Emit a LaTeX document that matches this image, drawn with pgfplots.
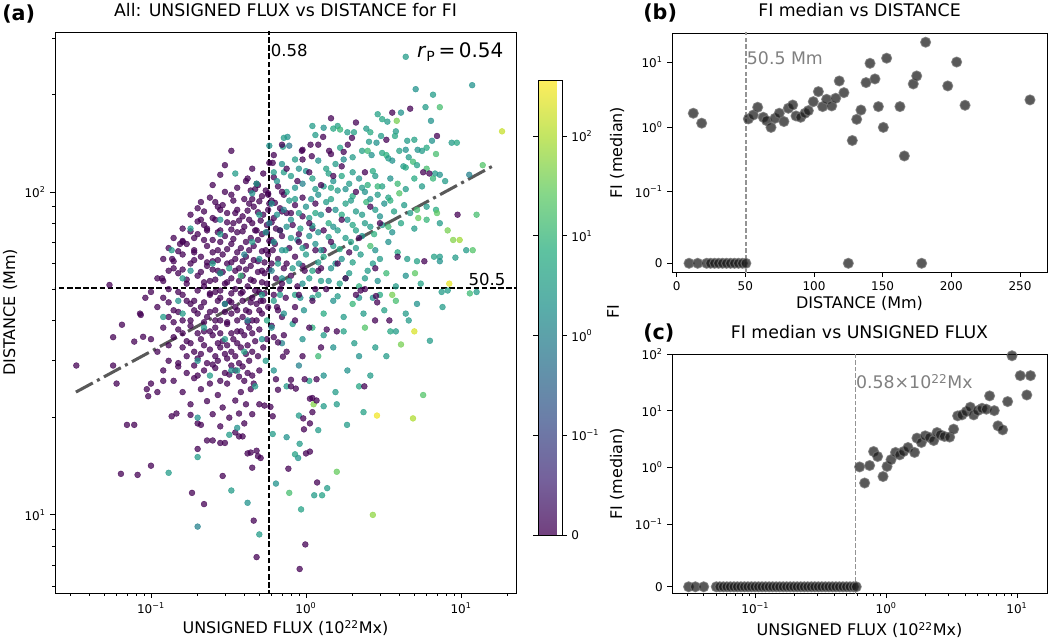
\documentclass[border=0pt]{standalone}
\usepackage{fontspec}
\setmainfont{DejaVu Sans}
\usepackage{pgfplots}
\usepackage{pgfplotstable}
\pgfplotsset{compat=1.18}
\newcommand{\tp}[1]{10\textsuperscript{#1}}
\pgfplotsset{
  colormap={vir}{rgb255(0cm)=(68,1,84) rgb255(1cm)=(71,45,123) rgb255(2cm)=(59,82,139) rgb255(3cm)=(44,114,142) rgb255(4cm)=(33,145,140) rgb255(5cm)=(40,174,128) rgb255(6cm)=(94,201,98) rgb255(7cm)=(173,220,48) rgb255(8cm)=(253,231,37)},
  colormap={virw}{rgb255(0cm)=(115,65,127) rgb255(1cm)=(117,98,156) rgb255(2cm)=(108,125,168) rgb255(3cm)=(97,149,170) rgb255(4cm)=(89,173,169) rgb255(5cm)=(94,194,160) rgb255(6cm)=(134,215,137) rgb255(7cm)=(194,229,100) rgb255(8cm)=(254,237,92)},
  every axis/.append style={
    tick label style={font=\fontsize{9}{10.5}\selectfont},
    label style={font=\fontsize{12}{14}\selectfont},
    title style={font=\fontsize{13}{15}\selectfont},
    /pgf/number format/assume math mode=true,
  },
  mpl/.style={scale only axis, anchor=south west, tick align=outside, tick pos=left,
    major tick length=3.5pt, minor tick length=2pt,
    every major tick/.append style={line width=0.6pt, black},
    every minor tick/.append style={line width=0.45pt, black},
    axis line style={line width=0.7pt}},
  fimark/.style={only marks, mark=*, mark size=3.75pt,
    mark options={fill=black!90, fill opacity=0.72, draw=black!55, draw opacity=0.75, line width=0.8pt}},
  scat/.style={scatter, only marks, mark=*, mark size=2.2pt, colormap name=vir,
    scatter/use mapped color={draw=mapped color, fill=mapped color},
    mark options={fill opacity=0.74, draw opacity=0.74, line width=0.35pt},
    point meta={\thisrow{f}<0.1 ? 10*\thisrow{f} : 2+0.4342945*ln(max(\thisrow{f},0.1))}},
}

\pgfplotstableread{
x y f
0.30 121 0
0.45 118 0
0.58 123 0
0.28 113 0
0.42 110 0
0.53 114 0
0.62 111 0
0.25 105 0
0.36 103 0
0.48 106 0
0.55 101 0
0.66 104 0
0.24 96 0
0.33 98 0
0.40 95 0
0.52 97 0
0.60 94 0
0.72 98 0
0.20 89 0
0.29 91 0
0.36 88 0
0.46 90 0
0.58 92 0
0.68 89 0
0.85 91 0
0.18 85 0
0.25 83 0
0.31 86 0
0.39 84 0
0.43 82 0
0.53 85 0
0.62 83 0
0.75 86 0
0.95 84 0
0.16 77 0
0.22 79 0
0.28 76 0
0.34 80 0
0.40 78 0
0.48 76 0
0.56 79 0
0.64 77 0
0.82 79 0
1.1 77 0
0.14 72 0
0.20 74 0
0.25 71 0
0.30 73 0
0.36 75 0
0.44 72 0
0.52 74 0
0.60 71 0
0.70 73 0
0.9 74 0
0.13 67 0
0.17 69 0
0.23 68 0
0.27 66 0
0.33 69 0
0.38 67 0
0.46 68 0
0.55 66 0
0.63 69 0
0.78 67 0
1.0 68 0
1.3 66 0
0.12 62 0
0.16 64 0
0.21 63 0
0.25 61 0
0.29 64 0
0.35 62 0
0.41 63 0
0.49 61 0
0.57 64 0
0.66 62 0
0.85 63 0
0.14 58 0
0.18 60 0
0.23 59 0
0.27 57 0
0.31 60 0
0.37 58 0
0.44 59 0
0.52 57 0
0.60 60 0
0.72 58 0
0.95 59 0
1.2 57 0
0.11 54 0
0.15 56 0
0.20 55 0
0.24 53 0
0.28 56 0
0.33 54 0
0.39 55 0
0.46 53 0
0.54 56 0
0.64 54 0
0.80 55 0
0.13 50 0
0.17 52 0
0.22 51 0
0.26 49 0
0.30 52 0
0.35 50 0
0.42 51 0
0.50 49 0
0.56 52 0
0.68 50 0
0.88 51 0
1.15 50 0
0.12 47 0
0.16 48 0
0.19 46 0
0.24 48 0
0.28 47 0
0.32 46 0
0.38 48.5 0
0.45 47 0
0.53 46 0
0.62 48 0
0.74 47 0
0.11 44 0
0.14 43 0
0.18 45 0
0.21 44 0
0.26 43 0
0.30 45 0
0.35 44 0
0.41 43 0
0.48 45 0
0.57 44 0
0.66 43 0
0.85 44 0
0.13 41 0
0.16 40 0
0.20 42 0
0.23 41 0
0.28 40 0
0.33 42 0
0.39 41 0
0.45 40 0
0.52 42 0
0.70 41 0
0.12 38 0
0.15 37.5 0
0.18 38.5 0
0.22 37 0
0.26 38 0
0.31 39 0
0.36 37 0
0.43 38 0
0.50 37.5 0
0.60 38.5 0
0.10 35 0
0.14 35.5 0
0.17 34.5 0
0.21 35 0
0.25 36 0
0.29 34.5 0
0.34 35 0
0.40 36 0
0.47 34.5 0
0.56 35 0
0.11 32 0
0.16 33 0
0.19 32 0
0.24 32.5 0
0.28 33 0
0.33 32 0
0.38 33 0
0.45 32 0
0.53 33 0
0.13 30 0
0.15 29.5 0
0.20 30.5 0
0.23 29.5 0
0.27 30 0
0.31 30.5 0
0.37 29.5 0
0.43 30 0
0.12 28 0
0.17 27.5 0
0.22 28 0
0.26 28.5 0
0.30 27.5 0
0.35 28 0
0.42 27.5 0
0.50 28 0
0.14 26 0
0.19 26.5 0
0.24 25.5 0
0.28 26 0
0.40 26 0
0.46 25.5 0
0.16 24 0
0.21 24.5 0
0.27 23.5 0
0.38 24 0
0.44 24.5 0
0.18 22 0
0.23 22.5 0
0.29 21.5 0
0.41 22 0
0.25 20.5 0
0.32 20 0
0.45 20.5 0
0.21 19 0
0.28 18.8 0
0.40 19.2 0
0.30 100 0
0.44 101 0
0.57 99 0
0.26 93 0
0.34 94 0
0.43 92 0
0.50 93.5 0
0.63 92.5 0
0.22 87 0
0.28 88 0
0.35 86 0
0.42 87.5 0
0.49 86.5 0
0.57 88 0
0.70 87 0
0.20 81 0
0.26 82 0
0.31 80.5 0
0.37 81.5 0
0.45 80 0
0.51 81.5 0
0.60 80.5 0
0.18 75.5 0
0.23 76 0
0.27 75 0
0.33 76.5 0
0.39 75.5 0
0.47 76 0
0.56 75 0
0.16 70.5 0
0.22 71 0
0.28 70 0
0.34 71.5 0
0.41 70 0
0.49 71 0
0.58 70.5 0
0.15 65.5 0
0.19 66 0
0.25 65 0
0.31 66.5 0
0.36 65 0
0.43 66 0
0.52 65.5 0
0.61 66 0
0.14 61 0
0.19 61.5 0
0.23 60.5 0
0.27 61.5 0
0.33 60.5 0
0.39 61 0
0.46 61.5 0
0.54 60.5 0
0.13 57 0
0.16 57.5 0
0.21 56.5 0
0.25 57.5 0
0.29 56.5 0
0.35 57 0
0.41 57.5 0
0.49 56.5 0
0.58 57.5 0
0.12 53 0
0.17 53.5 0
0.22 52.5 0
0.26 53.5 0
0.31 52.5 0
0.37 53 0
0.44 53.5 0
0.52 52.5 0
0.15 49 0
0.20 49.5 0
0.24 48.5 0
0.28 49.5 0
0.33 48.5 0
0.39 49 0
0.47 49.5 0
0.54 48.5 0
0.13 45.5 0
0.17 46 0
0.22 45.5 0
0.27 46 0
0.33 45.5 0
0.39 46 0
0.44 45.5 0
0.51 46 0
0.15 42.5 0
0.19 43 0
0.24 42.5 0
0.30 42.5 0
0.36 43 0
0.43 42.5 0
0.50 43 0
0.14 39.5 0
0.18 40 0
0.22 39.5 0
0.26 40 0
0.31 39.5 0
0.36 40 0
0.42 39.5 0
0.48 40 0
0.16 36.5 0
0.20 36.5 0
0.24 37 0
0.28 36.5 0
0.33 36.5 0
0.38 37 0
0.45 36.5 0
0.13 33.5 0
0.18 34 0
0.22 33.5 0
0.27 34 0
0.31 33.5 0
0.36 34 0
0.42 33.5 0
0.17 31 0
0.21 31.5 0
0.26 31 0
0.30 31.5 0
0.35 31 0
0.41 31.5 0
0.49 31 0
0.15 28.8 0
0.19 29 0
0.25 29.2 0
0.33 29 0
0.39 28.8 0
0.20 27 0
0.32 27.2 0
0.37 26.8 0
0.45 27 0
0.033 29 0
0.057 35.5 0
0.065 38.8 0
0.057 29 0
0.060 25.5 0
0.070 19 0
0.078 19 0
0.064 13.4 0
0.082 13.3 0
0.100 14.2 0
0.184 11.7 0
0.22 10.8 0
0.46 9.6 0
0.48 7.4 0
0.99 8.1 0
0.91 6.8 0
1.18 12.6 0
0.77 13.9 0
1.0 15.5 0
0.48 15.8 0
0.42 15.5 0
0.45 14.0 0
0.29 13.2 0
0.23 17.0 0
0.20 16.0 0
0.28 16.7 0
0.37 17.5 0
0.97 18.4 0
1.06 19.2 0
1.10 23.0 0
1.10 20.8 0
0.054 51.5 0
0.092 47 0
0.085 42 0
0.118 54 0
0.10 49 0
0.078 34.4 0
0.089 35.6 0
0.086 41.6 0
0.094 24.5 0
0.10 25.5 0
0.11 24 0
0.12 26 0
0.096 23.3 0
0.136 20.2 0
0.146 20.6 0
0.18 20.4 0
0.20 19.2 0
0.25 17.0 0
0.30 16.7 0
0.35 18.0 0
0.39 17.5 0
0.44 15.6 0
0.49 15.2 0
0.51 15.0 0
0.31 25.5 0
0.35 22.6 0
0.37 20.6 0
0.50 22 0
0.54 21.8 0
0.59 21.6 0
0.33 134 0
0.41 108 0
0.47 102 0
0.49 105 0
0.21 93 0
0.27 90 0
0.45 95 0
0.57 98 0
0.21 82 0
0.23 77 0
0.16 70 0
0.154 69 0
0.19 72 0
0.137 62 0
0.19 65 0
}\Pcore

\pgfplotstableread{
x y f
4.4 262 3
5.1 208 2
6.6 200 3
11.8 214 2
5.9 183 3
7.3 183 15
4.1 176 2
2.9 174 4
6.4 166 2
3.85 166 40
3.35 165 3
3.1 168 5
1.6 160 4
18.4 154 150
8.7 142 3
9.4 142 5
6.5 144 2
5.0 145 4
4.5 144 3
5.25 135 2
6.0 137 6
5.6 134 3
6.9 131 15
4.0 134 4
4.4 135 2
3.8 154 3
3.75 149 5
3.05 149 3
2.6 153 6
2.55 143 3
2.85 142 2
2.04 153 4
1.85 153 3
1.66 156 10
1.66 137 4
1.15 150 3
0.76 148 2
0.71 138 3
0.78 139 0.7
1.1 160 3
1.3 158 2
1.5 157 5
2.45 157 3
0.58 139 2
0.72 147 3
0.85 126 3
2.3 134 4
2.5 134 12
2.0 128 3
2.65 130 2
3.1 132 5
3.3 130 8
3.4 127 3
3.6 125 2
4.25 120 3
4.4 119 5
4.6 128 3
4.9 124 12
5.2 121 4
6.0 118 15
6.8 114 3
7.3 113 2
6.6 110 10
7.9 108 3
11.3 113 1
13.8 121 20
1.2 125 2
1.55 122 3
1.75 126 1.5
0.7 122 2
0.62 115 3
0.9 118 2
1.35 118 4
0.65 108 2
0.8 112 3
0.95 106 1
1.1 110 4
1.3 104 3
1.5 108 2
1.7 112 5
1.9 106 3
2.2 110 2
2.5 105 8
2.8 112 3
3.1 104 4
3.5 110 2
3.9 106 12
4.4 102 3
5.0 110 6
5.6 104 3
0.75 100 4
1.2 98 2
1.6 101 3
2.0 97 6
2.4 100 2
2.9 98 3
3.4 96 4
4.0 99 20
0.6 92 2
0.72 88 1
0.85 95 3
1.0 90 2
1.15 86 5
1.35 93 3
1.55 88 2
1.8 92 4
2.1 87 3
2.45 93 10
2.8 88 3
3.2 92 2
3.7 87 4
4.3 91 3
5.2 88 15
6.0 90 3
6.9 88 6
7.0 86 25
12.6 85 15
5.3 83 30
4.7 86 3
0.58 80 1
0.68 76 3
0.8 82 2
0.92 77 4
1.05 83 3
1.2 75 2
1.4 80 6
1.6 76 3
1.85 82 2
2.1 76 4
2.4 80 3
2.75 74 8
3.1 79 3
3.6 75 2
4.1 80 5
5.0 77 3
6.0 82 10
7.3 80 3
8.2 76 40
0.62 70 2
0.74 66 3
0.88 71 1
1.0 64 3
1.15 69 2
1.3 63 5
1.5 68 3
1.7 62 2
1.95 70 4
2.25 64 3
2.6 68 15
3.0 62 3
3.4 70 2
3.9 65 6
4.5 62 3
5.2 61 4
5.05 56 25
7.3 63 3
7.3 61 2
9.2 62.6 3
9.8 71 80
11.9 66 20
8.9 71 50
10.8 66 3
6.7 63 4
0.6 57 1
0.7 54 2
0.82 58 3
0.95 52 2
1.1 57 5
1.25 53 3
1.45 58 2
1.65 52 4
1.9 56 3
2.2 51 8
2.5 57 3
2.9 53 2
3.3 56 12
3.8 51 3
4.4 55 2
5.5 52 4
8.4 52 250
7.5 49 3
12.6 49 3
11.4 48.5 12
0.62 46 3
0.72 42 2
0.85 48 4
0.97 43 2
1.1 47 3
1.3 42 6
1.5 46 2
1.75 41 3
2.0 45 10
2.35 42 3
2.7 47 2
3.2 43 4
3.8 46 15
4.4 42 3
5.2 45 2
7.6 44 3
8.2 49.5 3
4.6 40 3
3.6 48 40
0.6 38 2
0.7 34 1
0.82 39 3
0.95 35 2
1.1 38 8
1.3 36 3
1.5 33 2
1.75 37 4
2.05 34 3
2.4 38 20
2.8 33 3
3.3 31 3
3.5 37 5
3.8 37 3
4.1 33.7 40
5.0 37 200
6.3 34.6 3
2.2 31 2
1.2 31 12
0.62 28 2
0.75 25 3
0.9 29 1
1.05 26 4
1.3 27 2
1.55 24 3
1.85 28 2
2.2 25 5
2.6 27 3
1.12 22 50
1.3 21.7 3
1.58 22 3
2.35 20.8 4
2.87 20.3 300
4.9 19.9 100
5.7 23.5 20
0.9 20.3 3
1.2 18.3 3
1.84 19 3
0.61 17.8 3
0.75 17.4 2
0.91 16.6 3
0.89 15 2
0.85 15.4 4
1.58 13.6 30
0.64 12.5 2
0.78 11.7 15
1.13 11.5 3
1.27 11.5 4
1.37 12.1 3
0.93 10.4 4
2.7 10 60
0.5 8.7 3
0.42 10.9 2
0.33 11.9 3
0.2 15.1 3
0.2 20 2
0.13 13.5 3
0.2 9.2 1
0.32 17.7 3
0.36 18.6 2
0.18 77 3
0.136 66 3
0.35 114 3
0.48 106 3
0.45 99 2
0.28 74 3
0.25 60 3
0.3 45 2
0.22 38 3
0.4 32 4
0.15 46 2
0.45 70 3
0.38 55 10
0.5 62 2
0.28 82 2
0.52 48 3
0.42 40 1
0.12 41 3
0.55 30 3
0.33 28 2
0.47 25 3
0.16 54 3
0.18 57 2
0.28 56 3
0.32 58 4
0.5 85 3
0.55 75 2
0.4 64 1
0.56 40 5
0.52 35 2
0.3 35 3
0.16 42 3
0.2 30 2
0.24 27 3
0.36 28 3
0.72 115 3
1.0 116 2
1.4 114 4
2.0 115 3
2.7 116 6
0.85 103 2
1.15 102 3
1.45 103 5
1.8 102 2
2.3 103 3
2.9 104 10
0.78 94 3
1.08 95 2
1.45 95 4
1.95 94 3
2.6 95 2
3.5 94 8
0.65 85 2
0.9 86 3
1.25 85 2
1.7 85 6
2.3 85 3
3.0 84 2
0.75 78 2
1.1 78.5 3
1.5 78 2
2.0 79 5
2.6 78 3
3.4 78 12
0.8 72 3
1.05 73 2
1.4 72.5 4
1.8 72 3
2.3 73 2
0.7 66 2
0.95 67 3
1.25 66 2
1.65 66.5 6
2.1 67 3
2.8 66 2
0.66 60 3
0.9 60 2
1.2 60.5 3
1.55 60 2
2.0 60.5 4
2.7 60 3
0.78 53 2
1.05 54 3
1.4 53 2
1.8 54 5
2.4 54 3
0.68 48 3
0.92 47 2
1.2 48 4
1.6 47.5 3
2.2 47 2
3.0 48 6
}\Col

\pgfplotstableread{
x y f
7.0 149 0
4.7 181 0
3.6 176 0
1.45 169 0
2.1 164 0
1.98 147 0
1.86 140 0
1.29 148 0
1.2 140 0
0.94 134 0
0.95 126 0
1.09 129 0
1.41 134 0
1.45 131 0
1.75 133 0
6.25 114 0
5.7 115 0
3.3 145 0
9.5 85 0
5.8 61 0
3.9 63 0
2.83 47.6 0
2.88 45.5 0
3.45 40 0
2.79 40 0
2.1 48 0
2.4 50 0
2.25 49.5 0
1.58 37 0
1.36 37.5 0
1.17 26.3 0
0.86 24.6 0
0.75 32 0
0.71 30.9 0
0.66 34.2 0
0.62 35.5 0
0.64 26.3 0
0.66 24.4 0
0.61 20.2 0
0.80 25 0
0.96 19.9 0
1.06 15.7 0
2.38 25 0
0.8 26.2 0
0.98 26.3 0
1.06 22.9 0
1.17 22.6 0
0.61 123 0
0.70 140 0
0.95 135 0
1.07 140 0
0.62 130 0
0.75 118 0
0.88 108 0
1.05 115 0
1.25 105 0
1.5 112 0
0.7 100 0
0.95 96 0
1.15 92 0
1.4 88 0
0.8 86 0
1.05 80 0
1.3 76 0
1.7 82 0
0.68 76 0
0.9 70 0
1.15 66 0
1.45 70 0
0.75 60 0
0.98 57 0
1.25 58 0
1.6 60 0
0.7 52 0
0.9 48 0
1.1 46 0
1.35 50 0
1.8 54 0
0.65 44 0
0.85 40 0
1.05 38 0
0.72 36 0
1.25 33 0
0.95 31 0
1.9 65 0
2.2 72 0
2.6 90 0
2.1 100 0
1.7 120 0
2.4 115 0
3.0 80 0
2.8 58 0
}\Pright

\pgfplotstableread{
x y
9.0 0
15.3 0
21.8 0
24.7 0
27.6 0
30.5 0
33.4 0
36.3 0
39.2 0
42.1 0
45.0 0
47.9 0
50.4 0
125.0 0
178.4 0
12.1 1.64
18.2 1.15
52.2 1.34
55.8 1.54
59.0 2.03
63.1 1.42
65.5 1.26
68.7 0.99
71.6 1.37
74.7 1.64
78.1 1.22
81.3 1.96
84.5 2.20
86.9 1.49
90.3 1.42
93.4 1.64
95.9 1.80
99.5 2.48
103.2 3.55
106.3 2.08
109.2 2.70
112.9 2.13
115.8 2.80
118.4 5.19
121.8 3.42
127.9 0.62
131.1 1.32
134.2 1.84
137.9 4.90
140.8 9.75
144.4 5.58
146.9 2.08
150.5 0.99
152.9 11.7
162.6 2.08
165.8 0.357
172.3 4.67
174.8 6.21
181.3 20.7
197.4 4.35
203.9 10.2
210.0 2.18
257.3 2.64
}\Bdata

\pgfplotstableread{
x y
0.0309 0
0.0348 0
0.0403 0
0.0503 0
0.0535 0
0.0569 0
0.0606 0
0.0644 0
0.0686 0
0.0729 0
0.0776 0
0.0826 0
0.0878 0
0.0934 0
0.0994 0
0.1058 0
0.1125 0
0.1197 0
0.1274 0
0.1355 0
0.1442 0
0.1534 0
0.1632 0
0.1736 0
0.1847 0
0.1965 0
0.2090 0
0.2224 0
0.2366 0
0.2517 0
0.2678 0
0.2849 0
0.3031 0
0.3225 0
0.3431 0
0.3650 0
0.3883 0
0.4131 0
0.4395 0
0.4676 0
0.4975 0
0.5293 0
0.5631 0
0.5910 0
0.627 1.02
0.685 0.53
0.748 1.08
0.802 1.91
0.861 1.56
0.947 0.69
1.016 1.04
1.09 1.37
1.18 1.84
1.27 1.67
1.36 1.91
1.47 2.25
1.65 1.84
1.72 3.30
1.86 2.76
1.99 3.62
2.15 3.38
2.31 2.99
2.45 4.14
2.60 3.77
2.79 3.53
3.06 3.44
3.28 4.75
3.52 8.16
3.80 8.49
4.10 9.72
4.40 11.6
4.67 8.49
5.01 10.1
5.41 11.1
5.83 10.7
6.18 18.4
6.71 10.1
7.16 5.44
7.78 4.62
8.49 14.6
9.17 94.4
10.6 42.0
11.9 19.1
12.7 42.0
}\Cdata

\begin{document}
\begin{tikzpicture}
\useasboundingbox (0,0) rectangle (786pt,480pt);

% ---------------- panel (a)
\begin{axis}[mpl,
  at={(41.25pt,35.25pt)}, width=345.75pt, height=420.75pt,
  xmode=log, ymode=log,
  xmin=0.02404, xmax=22.63, ymin=5.73, ymax=312.7,
  xtick={0.1,1,10}, xticklabels={\tp{−1},\tp{0},\tp{1}},
  minor xtick={0.03,0.04,0.05,0.06,0.07,0.08,0.09,0.2,0.3,0.4,0.5,0.6,0.7,0.8,0.9,2,3,4,5,6,7,8,9,20},
  ytick={10,100}, yticklabels={\tp{1},\tp{2}},
  minor ytick={6,7,8,9,20,30,40,50,60,70,80,90,200,300},
  title={All: UNSIGNED FLUX vs DISTANCE for FI},
  title style={at={(axis description cs:0.5,1.025)}, anchor=center},
  xlabel={UNSIGNED FLUX (10\textsuperscript{22}Mx)},
  xlabel style={at={(axis description cs:0.5,-0.0624)}, anchor=center},
  ylabel={DISTANCE (Mm)},
  ylabel style={at={(axis description cs:-0.0976,0.5)}, anchor=center},
  colormap name=virw,
  point meta min=0, point meta max=4.563,
  colorbar,
  colorbar shift/.style={xshift=16.5pt},
  colorbar style={at={(parent axis.south east)}, anchor=south west, yshift=43.5pt,
    width=18pt, height=341.25pt, scale only axis,
    ytick={0,1,2,3,4}, yticklabels={0,\tp{−1},\tp{0},\tp{1},\tp{2}},
    tick align=outside, major tick length=3.5pt,
    every major tick/.append style={line width=0.6pt, black},
    axis line style={line width=0.6pt}},
]
\addplot[scat] table[x=x,y=y]{\Pcore};
\addplot[scat] table[x=x,y=y]{\Col};
\addplot[scat] table[x=x,y=y]{\Pright};
\addplot[color=black!72, line width=2.3pt, opacity=0.9,
  dash pattern=on 14.4pt off 3.6pt on 2.3pt off 3.6pt] coordinates {(0.0328,24.0) (15.8,119.8)};
\addplot[black, line width=1.3pt, dash pattern=on 4.2pt off 1.9pt] coordinates {(0.58,5) (0.58,400)};
\addplot[black, line width=1.3pt, dash pattern=on 4.2pt off 1.9pt] coordinates {(0.02,50.5) (30,50.5)};
\node[anchor=west, inner sep=1pt, font=\fontsize{12.4}{14}\selectfont] at (axis cs:0.58,275) {0.58};
\node[anchor=east, inner sep=1pt, font=\fontsize{15}{17}\selectfont] at (axis cs:19.2,271) {\textit{r}\textsubscript{P}\,=\,0.54};
\node[anchor=south east, inner sep=1pt, font=\fontsize{12.4}{14}\selectfont] at (axis cs:19.8,50.5) {50.5};
\end{axis}

% ---------------- panel (b)
\begin{axis}[mpl,
  at={(504pt,276pt)}, width=281.25pt, height=179.25pt,
  xmin=-3.4, xmax=269.7, ymin=-0.135, ymax=3.57,
  xtick={0,50,100,150,200,250},
  ytick={0,1.111,2.111,3.111}, yticklabels={0,\tp{−1},\tp{0},\tp{1}},
  title={FI median vs DISTANCE},
  title style={at={(axis description cs:0.5,1.063)}, anchor=center},
  xlabel={DISTANCE (Mm)},
  xlabel style={at={(axis description cs:0.5,-0.1297)}, anchor=center},
  ylabel={FI (median)},
  ylabel style={at={(axis description cs:-0.1467,0.5)}, anchor=center},
]
\addplot[gray!85, line width=1pt, dash pattern=on 3.5pt off 1.6pt] coordinates {(50.5,-1) (50.5,5)};
\addplot[fimark] table[x=x, y expr={\thisrow{y}<0.1 ? 11.11*\thisrow{y} : 2.111+0.4342945*ln(max(\thisrow{y},0.1))}]{\Bdata};
\node[anchor=west, inner sep=0.5pt, text=gray, font=\fontsize{13}{15}\selectfont] at (axis cs:50.5,3.183) {50.5 Mm};
\end{axis}

% ---------------- panel (c)
\begin{axis}[mpl,
  at={(504pt,35pt)}, width=281.25pt, height=179.25pt,
  xmode=log, xmin=0.02307, xmax=16.98, ymin=-0.116, ymax=4.111,
  xtick={0.1,1,10}, xticklabels={\tp{−1},\tp{0},\tp{1}},
  minor xtick={0.03,0.04,0.05,0.06,0.07,0.08,0.09,0.2,0.3,0.4,0.5,0.6,0.7,0.8,0.9,2,3,4,5,6,7,8,9},
  ytick={0,1.111,2.111,3.111,4.111}, yticklabels={0,\tp{−1},\tp{0},\tp{1},\tp{2}},
  title={FI median vs UNSIGNED FLUX},
  title style={at={(axis description cs:0.5,1.060)}, anchor=center},
  xlabel={UNSIGNED FLUX (10\textsuperscript{22}Mx)},
  xlabel style={at={(axis description cs:0.5,-0.1536)}, anchor=center},
  ylabel={FI (median)},
  ylabel style={at={(axis description cs:-0.1467,0.5)}, anchor=center},
]
\addplot[gray!85, line width=1pt, dash pattern=on 3.5pt off 1.6pt] coordinates {(0.58,-1) (0.58,5)};
\addplot[fimark] table[x=x, y expr={\thisrow{y}<0.1 ? 11.11*\thisrow{y} : 2.111+0.4342945*ln(max(\thisrow{y},0.1))}]{\Cdata};
\node[anchor=west, inner sep=0.5pt, text=gray, font=\fontsize{13}{15}\selectfont] at (axis cs:0.58,3.628) {0.58×10\textsuperscript{22}Mx};
\end{axis}

\node[anchor=west, inner sep=0pt, font=\fontsize{15.5}{18}\selectfont\bfseries] at (1.5pt,469.5pt) {(a)};
\node[anchor=west, inner sep=0pt, font=\fontsize{15.5}{18}\selectfont\bfseries] at (482.25pt,470.25pt) {(b)};
\node[anchor=west, inner sep=0pt, font=\fontsize{15.5}{18}\selectfont\bfseries] at (482.25pt,230.25pt) {(c)};
\node[rotate=90, font=\fontsize{12}{14}\selectfont] at (459.75pt,246pt) {FI};
\end{tikzpicture}
\end{document}
